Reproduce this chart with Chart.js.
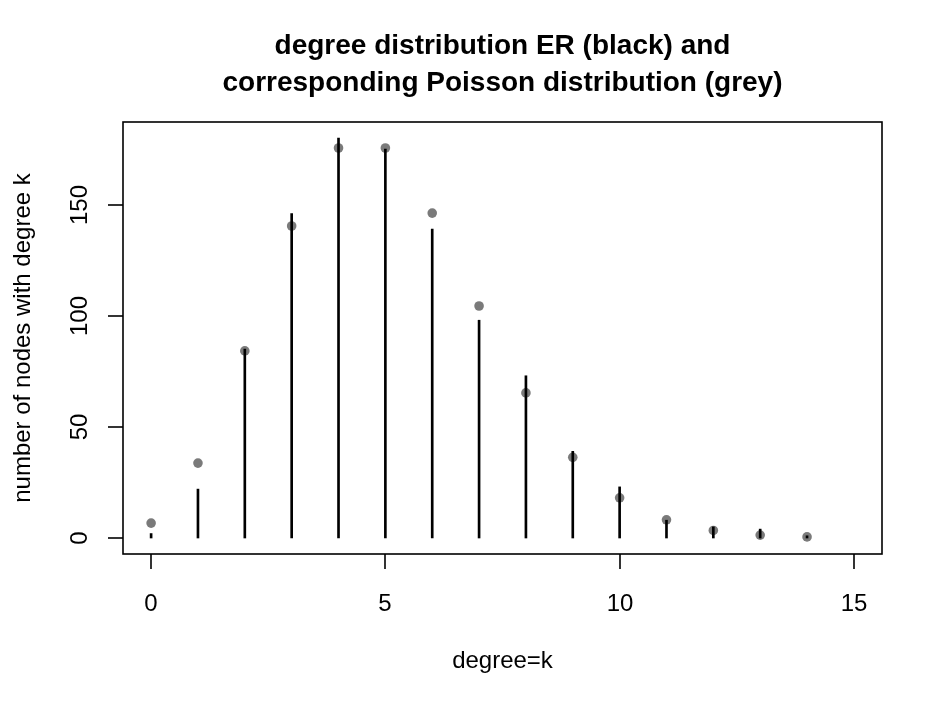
<!DOCTYPE html>
<html>
<head>
<meta charset="utf-8">
<script src="https://cdn.jsdelivr.net/npm/chart.js"></script>
<style>
  html, body { margin: 0; padding: 0; background: #fff; }
  #wrap { width: 944px; height: 709px; }
</style>
</head>
<body>
<div id="wrap"><canvas id="chart" width="944" height="709"></canvas></div>
<script>
// data
const degrees = [0, 1, 2, 3, 4, 5, 6, 7, 8, 9, 10, 11, 12, 13, 14]
const erCounts = [2, 22, 85, 146, 180, 175, 139, 98, 73, 39, 23, 8, 5, 4, 1]
const poissonCounts = [6.7, 33.7, 84.2, 140.4, 175.5, 175.5, 146.2, 104.4, 65.3, 36.3, 18.1, 8.2, 3.4, 1.3, 0.5]
const xTicks = [0, 5, 10, 15]
const yTicks = [0, 50, 100, 150]

const titleLines = ["degree distribution ER (black) and", "corresponding Poisson distribution (grey)"]
const xTitle = "degree=k"
const yTitle = "number of nodes with degree k"

const FONT = '"Liberation Sans", Arial, Helvetica, sans-serif'

// R style box, ticks and labels
const rAxes = {
  id: "rAxes",
  afterDraw(chart) {
    const { ctx, chartArea: a, scales } = chart
    const x = scales.x
    const y = scales.y
    ctx.save()
    ctx.strokeStyle = "#000"
    ctx.fillStyle = "#000"
    ctx.lineWidth = 1.6
    ctx.strokeRect(a.left, a.top, a.right - a.left, a.bottom - a.top)

    ctx.font = "24px " + FONT
    ctx.textAlign = "center"
    ctx.textBaseline = "alphabetic"
    xTicks.forEach((v) => {
      const px = Math.round(x.getPixelForValue(v))
      ctx.beginPath()
      ctx.moveTo(px, a.bottom)
      ctx.lineTo(px, a.bottom + 15)
      ctx.stroke()
      ctx.fillText(String(v), px, 611)
    })

    yTicks.forEach((v) => {
      const py = Math.round(y.getPixelForValue(v))
      ctx.beginPath()
      ctx.moveTo(a.left - 15, py)
      ctx.lineTo(a.left, py)
      ctx.stroke()
      ctx.save()
      ctx.translate(87, py)
      ctx.rotate(-Math.PI / 2)
      ctx.fillText(String(v), 0, 0)
      ctx.restore()
    })

    const cx = (a.left + a.right) / 2
    const cy = (a.top + a.bottom) / 2
    ctx.fillText(xTitle, cx, 668)
    ctx.save()
    ctx.translate(30, cy)
    ctx.rotate(-Math.PI / 2)
    ctx.fillText(yTitle, 0, 0)
    ctx.restore()

    ctx.font = "bold 28px " + FONT
    ctx.fillText(titleLines[0], cx, 54)
    ctx.fillText(titleLines[1], cx, 91)
    ctx.restore()
  },
}

new Chart(document.getElementById("chart"), {
  data: {
    datasets: [
      {
        type: "bar",
        label: "ER",
        data: degrees.map((k, i) => ({ x: k, y: erCounts[i] })),
        backgroundColor: "#000",
        borderWidth: 0,
        barThickness: 2,
        order: 0,
      },
      {
        type: "scatter",
        label: "Poisson",
        data: degrees.map((k, i) => ({ x: k, y: poissonCounts[i] })),
        backgroundColor: "#7a7a7a",
        borderWidth: 0,
        pointRadius: 4.8,
        order: 1,
      },
    ],
  },
  options: {
    responsive: false,
    devicePixelRatio: 1,
    animation: false,
    events: [],
    layout: { padding: { left: 123, right: 62, top: 122, bottom: 155 } },
    plugins: { legend: { display: false }, title: { display: false }, tooltip: { enabled: false } },
    scales: {
      x: { type: "linear", min: -0.6, max: 15.6, offset: false, display: false },
      y: { type: "linear", min: -7.2, max: 187.2, display: false },
    },
  },
  plugins: [rAxes],
})
</script>
</body>
</html>
